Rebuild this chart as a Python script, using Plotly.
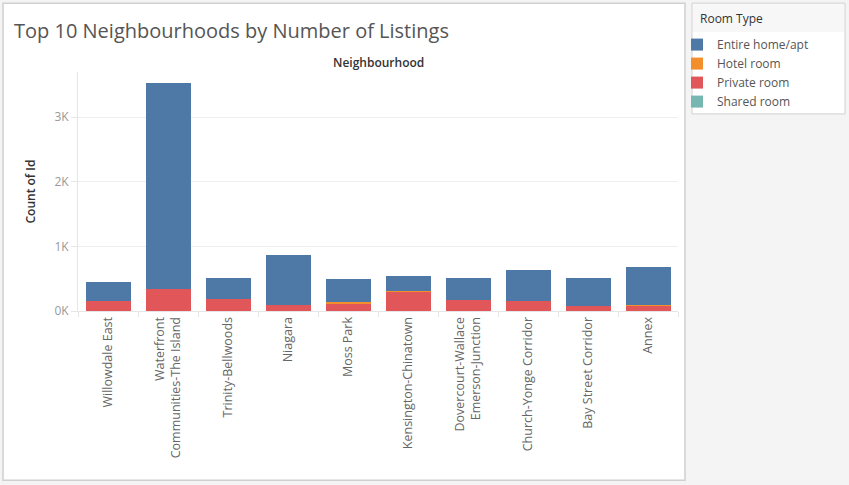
import plotly.graph_objects as go

# data (counts of listings)
neighbourhoods = [
    "Willowdale East",
    "Waterfront<br>Communities-The Island",
    "Trinity-Bellwoods",
    "Niagara",
    "Moss Park",
    "Kensington-Chinatown",
    "Dovercourt-Wallace<br>Emerson-Junction",
    "Church-Yonge Corridor",
    "Bay Street Corridor",
    "Annex",
]
entire_home = [282, 3190, 324, 772, 367, 232, 340, 489, 432, 587]
hotel_room = [0, 0, 0, 0, 15, 10, 0, 0, 0, 10]
private_room = [162, 332, 193, 100, 120, 306, 177, 151, 85, 90]
shared_room = [0, 4, 0, 0, 0, 0, 0, 0, 0, 0]

y_ticks = [0, 1000, 2000, 3000]
y_labels = ["0K", "1K", "2K", "3K"]

colors = {
    "Entire home/apt": "#4e79a7",
    "Hotel room": "#f28e2b",
    "Private room": "#e15759",
    "Shared room": "#76b7b2",
}

W, H = 849, 485
PL, PR, PT, PB = 78, 678, 72, 311.5


def px_x(p):
    return (p - PL) / (PR - PL)


def px_y(p):
    return (PB - p) / (PB - PT)


FONT = "Open Sans"

fig = go.Figure()
# bottom to top: shared, private, hotel, entire
for name, vals in [("Shared room", shared_room), ("Private room", private_room),
                   ("Hotel room", hotel_room), ("Entire home/apt", entire_home)]:
    fig.add_trace(go.Bar(x=neighbourhoods, y=vals, name=name,
                         marker=dict(color=colors[name], line=dict(width=0))))

shapes = [
    # white sheet panel
    dict(type="rect", xref="paper", yref="paper", x0=px_x(3), x1=px_x(685),
         y0=px_y(481), y1=px_y(3), fillcolor="white",
         line=dict(color="#d0d0d0", width=1.5), layer="below"),
    # legend box
    dict(type="rect", xref="paper", yref="paper", x0=px_x(692), x1=px_x(845),
         y0=px_y(114), y1=px_y(3), fillcolor="white",
         line=dict(color="#d0d0d0", width=1), layer="below"),
    dict(type="rect", xref="paper", yref="paper", x0=px_x(693), x1=px_x(844),
         y0=px_y(32), y1=px_y(4), fillcolor="#f7f7f7",
         line=dict(width=0), layer="below"),
]

fig.update_layout(
    width=W, height=H,
    margin=dict(l=PL, r=W - PR, t=PT, b=H - PB),
    paper_bgcolor="#f4f4f4",
    plot_bgcolor="white",
    barmode="stack",
    bargap=0.25,
    font=dict(family=FONT, size=12, color="#666"),
    shapes=shapes,
    showlegend=True,
    legend=dict(
        traceorder="reversed",
        x=px_x(677), xanchor="left",
        y=px_y(30), yanchor="top",
        bgcolor="rgba(0,0,0,0)",
        font=dict(size=12, color="#555"),
        itemwidth=30,
        tracegroupgap=0,
    ),
    annotations=[
        dict(text="Top 10 Neighbourhoods by Number of Listings", xref="paper", yref="paper",
             x=px_x(12), y=px_y(30), xanchor="left", yanchor="middle", showarrow=False,
             font=dict(size=20, color="#555", family=FONT)),
        dict(text="Neighbourhood", xref="paper", yref="paper",
             x=0.5, y=px_y(62), xanchor="center", yanchor="middle", showarrow=False,
             font=dict(size=12, color="#333", family=FONT, weight=600)),
        dict(text="Room Type", xref="paper", yref="paper",
             x=px_x(698), y=px_y(18), xanchor="left", yanchor="middle", showarrow=False,
             font=dict(size=12, color="#333", family=FONT)),
    ],
)

fig.update_xaxes(
    type="category",
    tickangle=-90,
    tickson="boundaries",
    ticks="outside", ticklen=5, tickcolor="#e6e6e6",
    showline=True, linecolor="#e6e6e6",
    showgrid=False,
    tickfont=dict(size=12.5, color="#666"),
)

fig.update_yaxes(
    range=[0, 3700],
    tickvals=y_ticks, ticktext=y_labels,
    showgrid=True, gridcolor="#eeeeee",
    zeroline=False,
    showline=True, linecolor="#e6e6e6",
    ticks="outside", ticklen=6, tickcolor="#e6e6e6",
    tickfont=dict(size=12, color="#999"),
    title=dict(text="Count of Id", font=dict(size=12, color="#333", weight=600), standoff=16),
)

fig.write_html("out.html", config={"displayModeBar": False},
               post_script="document.body.style.margin='0';")
